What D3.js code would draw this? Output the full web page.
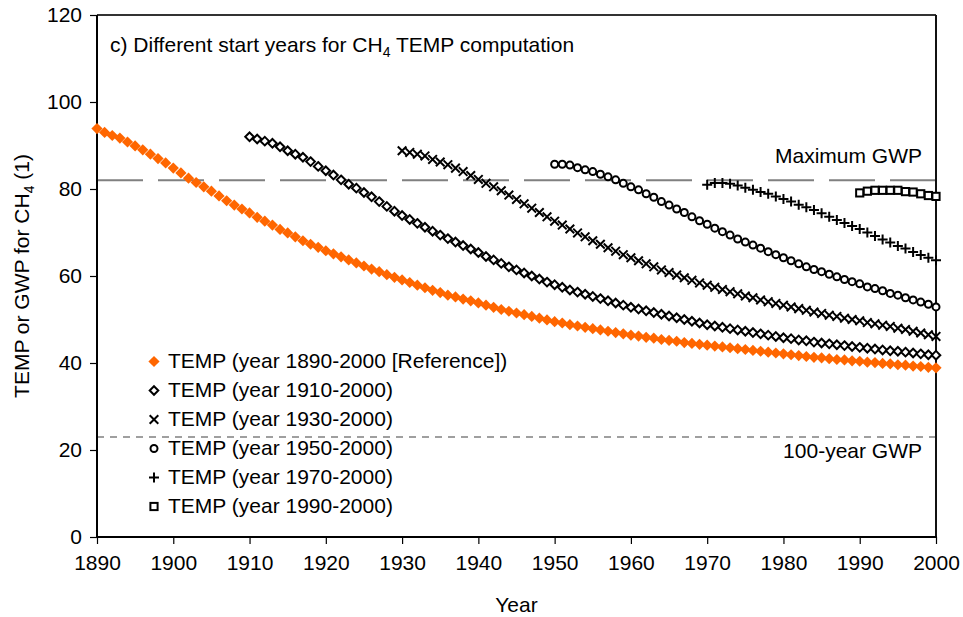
<!DOCTYPE html>
<html>
<head>
<meta charset="utf-8">
<script src="https://cdn.jsdelivr.net/npm/d3@7/dist/d3.min.js"></script>
<style>
  html, body { margin: 0; padding: 0; background: #fff; }
  text { font-family: "Liberation Sans", Arial, sans-serif; fill: #000; }
</style>
</head>
<body>
<svg id="chart" width="963" height="617"></svg>
<script>
// ---------------- data ----------------
const xTicks = [1890, 1900, 1910, 1920, 1930, 1940, 1950, 1960, 1970, 1980, 1990, 2000];
const yTicks = [0, 20, 40, 60, 80, 100, 120];

const startYears = [1890, 1910, 1930, 1950, 1970, 1990];
const legendLabels = [
  "TEMP (year 1890-2000 [Reference])",
  "TEMP (year 1910-2000)",
  "TEMP (year 1930-2000)",
  "TEMP (year 1950-2000)",
  "TEMP (year 1970-2000)",
  "TEMP (year 1990-2000)"
];

const temp1890 = [
  93.9, 93.0, 92.3, 91.7, 90.8, 89.9, 89.0, 88.0, 87.0, 86.0,
  84.8, 83.7, 82.5, 81.5, 80.5, 79.5, 78.4, 77.3, 76.3, 75.4,
  74.5, 73.5, 72.6, 71.7, 70.7, 69.9, 69.0, 68.1, 67.3, 66.6,
  65.8, 65.1, 64.4, 63.7, 63.0, 62.3, 61.6, 61.0, 60.3, 59.7,
  59.1, 58.5, 57.9, 57.3, 56.7, 56.2, 55.6, 55.2, 54.7, 54.3,
  53.8, 53.3, 52.8, 52.3, 51.9, 51.5, 51.1, 50.7, 50.3, 49.9,
  49.5, 49.2, 48.8, 48.5, 48.2, 47.9, 47.6, 47.3, 47.0, 46.7,
  46.4, 46.2, 45.9, 45.7, 45.4, 45.2, 45.0, 44.7, 44.5, 44.3,
  44.1, 43.9, 43.7, 43.5, 43.3, 43.1, 42.9, 42.7, 42.5, 42.3,
  42.1, 41.9, 41.7, 41.5, 41.3, 41.2, 41.0, 40.8, 40.7, 40.5,
  40.4, 40.2, 40.1, 39.9, 39.8, 39.6, 39.5, 39.3, 39.2, 39.0,
  38.9
];
const temp1910 = [
  92.0, 91.5, 91.0, 90.5, 89.7, 88.8, 88.0, 87.3, 86.3, 85.2,
  84.2, 83.2, 82.1, 81.1, 80.2, 79.2, 78.2, 77.1, 76.0, 74.9,
  73.9, 73.0, 72.1, 71.2, 70.3, 69.4, 68.6, 67.8, 67.0, 66.2,
  65.4, 64.5, 63.7, 62.9, 62.1, 61.4, 60.7, 60.0, 59.3, 58.6,
  58.0, 57.4, 56.8, 56.3, 55.8, 55.3, 54.8, 54.3, 53.8, 53.3,
  52.8, 52.4, 52.0, 51.6, 51.2, 50.8, 50.4, 50.0, 49.6, 49.2,
  48.8, 48.5, 48.2, 47.9, 47.6, 47.3, 47.0, 46.7, 46.4, 46.1,
  45.8, 45.6, 45.3, 45.1, 44.8, 44.6, 44.4, 44.2, 44.0, 43.8,
  43.6, 43.4, 43.2, 43.0, 42.8, 42.7, 42.5, 42.3, 42.1, 41.9,
  41.8
];
const temp1930 = [
  88.8, 88.4, 88.0, 87.6, 86.8, 86.2, 85.6, 84.8, 84.0, 83.1,
  82.2, 81.3, 80.5, 79.6, 78.6, 77.6, 76.6, 75.6, 74.6, 73.6,
  72.6, 71.7, 70.8, 69.9, 69.0, 68.1, 67.3, 66.5, 65.7, 64.9,
  64.2, 63.5, 62.8, 62.1, 61.4, 60.8, 60.2, 59.6, 59.0, 58.4,
  57.9, 57.4, 56.9, 56.4, 55.9, 55.4, 55.0, 54.5, 54.1, 53.7,
  53.3, 52.9, 52.5, 52.1, 51.7, 51.4, 51.0, 50.7, 50.3, 50.0,
  49.7, 49.3, 49.0, 48.7, 48.4, 48.0, 47.7, 47.3, 46.9, 46.5,
  46.1
];
const temp1950 = [
  85.7, 85.7, 85.5, 84.9, 84.4, 84.0, 83.4, 82.8, 82.1, 81.3,
  80.5, 79.8, 78.9, 78.1, 77.1, 76.3, 75.4, 74.6, 73.6, 72.7,
  71.9, 71.0, 70.2, 69.4, 68.5, 67.8, 67.1, 66.4, 65.6, 64.9,
  64.2, 63.5, 62.8, 62.1, 61.5, 61.0, 60.4, 59.8, 59.2, 58.7,
  58.2, 57.5, 57.1, 56.6, 56.0, 55.6, 55.0, 54.5, 54.0, 53.5,
  52.9
];
const temp1970 = [
  81.0, 81.4, 81.4, 81.2, 80.8, 80.3, 79.8, 79.3, 78.9, 78.3,
  77.7, 77.1, 76.4, 75.8, 75.2, 74.4, 73.6, 72.9, 72.2, 71.5,
  70.8, 70.0, 69.2, 68.4, 67.7, 66.9, 66.3, 65.5, 64.8, 64.2,
  63.6
];
const temp1990 = [
  79.1, 79.5, 79.7, 79.7, 79.7, 79.7, 79.4, 79.3, 78.9, 78.5,
  78.3
];

const maxGWP = 82.0;
const gwp100 = 23.0;
const refLabels = ["Maximum GWP", "100-year GWP"];

// ---------------- layout ----------------
const W = 963, H = 617;
const L = 97, R = 936, T = 15, B = 537;
const FONT = 21;
const ORANGE = "#FF6600";

const svg = d3.select("#chart");
svg.append("rect").attr("width", W).attr("height", H).attr("fill", "#fff");

const x = d3.scaleLinear().domain([1890, 2000]).range([L, R]);
const y = d3.scaleLinear().domain([0, 120]).range([B, T]);

// reference lines
svg.append("line")
  .attr("x1", x(1890)).attr("x2", x(2000))
  .attr("y1", y(maxGWP)).attr("y2", y(maxGWP))
  .attr("stroke", "#808080").attr("stroke-width", 2)
  .attr("stroke-dasharray", "46,15");
svg.append("line")
  .attr("x1", x(1890)).attr("x2", x(2000))
  .attr("y1", y(gwp100)).attr("y2", y(gwp100))
  .attr("stroke", "#808080").attr("stroke-width", 1.5)
  .attr("stroke-dasharray", "7,6");

svg.append("text").attr("x", R - 14).attr("y", y(maxGWP) - 17)
  .attr("text-anchor", "end").attr("font-size", FONT).attr("fill", "#000")
  .text(refLabels[0]);
svg.append("text").attr("x", R - 14).attr("y", y(gwp100) + 21)
  .attr("text-anchor", "end").attr("font-size", FONT)
  .text(refLabels[1]);

// axes
const gx = svg.append("g").attr("transform", `translate(0,${B})`)
  .call(d3.axisBottom(x).tickValues(xTicks).tickFormat(d3.format("d"))
    .tickSize(7).tickSizeOuter(0).tickPadding(11));
const gy = svg.append("g").attr("transform", `translate(${L},0)`)
  .call(d3.axisLeft(y).tickValues(yTicks).tickSize(7).tickSizeOuter(0).tickPadding(8));
[gx, gy].forEach(g => {
  g.select(".domain").remove();
  g.selectAll(".tick line").attr("stroke", "#000").attr("stroke-width", 1.2);
  g.selectAll(".tick text").attr("font-size", FONT)
    .attr("font-family", '"Liberation Sans", Arial, sans-serif').attr("fill", "#000");
});

// frame
svg.append("line").attr("x1", L).attr("x2", R).attr("y1", T).attr("y2", T)
  .attr("stroke", "#333").attr("stroke-width", 2);
svg.append("line").attr("x1", R).attr("x2", R).attr("y1", T).attr("y2", B)
  .attr("stroke", "#111").attr("stroke-width", 2);
svg.append("line").attr("x1", L).attr("x2", L).attr("y1", T).attr("y2", B + 1)
  .attr("stroke", "#000").attr("stroke-width", 2);
svg.append("line").attr("x1", L).attr("x2", R + 1).attr("y1", B).attr("y2", B)
  .attr("stroke", "#000").attr("stroke-width", 2);

// markers
function drawMarker(g, type) {
  const sw = 2;
  if (type === 0) {
    g.append("path").attr("d", "M0,-5.6L5.6,0L0,5.6L-5.6,0Z").attr("fill", ORANGE);
  } else if (type === 1) {
    g.append("path").attr("d", "M0,-4.3L4.3,0L0,4.3L-4.3,0Z")
      .attr("fill", "#fff").attr("stroke", "#000").attr("stroke-width", sw);
  } else if (type === 2) {
    g.append("path").attr("d", "M-4.3,-4.3L4.3,4.3M-4.3,4.3L4.3,-4.3")
      .attr("fill", "none").attr("stroke", "#000").attr("stroke-width", sw);
  } else if (type === 3) {
    g.append("circle").attr("r", 3.5)
      .attr("fill", "#fff").attr("stroke", "#000").attr("stroke-width", sw);
  } else if (type === 4) {
    g.append("path").attr("d", "M-5,0L5,0M0,-5L0,5")
      .attr("fill", "none").attr("stroke", "#000").attr("stroke-width", sw);
  } else {
    g.append("rect").attr("x", -3.6).attr("y", -3.6).attr("width", 7.2).attr("height", 7.2)
      .attr("fill", "#fff").attr("stroke", "#000").attr("stroke-width", sw);
  }
}

const seriesValues = [temp1890, temp1910, temp1930, temp1950, temp1970, temp1990];
seriesValues.forEach((vals, si) => {
  const pts = vals.map((v, i) => ({ year: startYears[si] + i, value: v }));
  const gs = svg.append("g");
  gs.selectAll("g").data(pts).join("g")
    .attr("transform", d => `translate(${x(d.year)},${y(d.value)})`)
    .each(function () { drawMarker(d3.select(this), si); });
});

// legend
const legendY0 = 360.5, legendStep = 29;
legendLabels.forEach((lab, i) => {
  const gy0 = legendY0 + i * legendStep;
  const g = svg.append("g").attr("transform", `translate(154,${gy0 + 1})`);
  drawMarker(g, i);
  svg.append("text").attr("x", 168).attr("y", gy0).attr("dy", "0.357em")
    .attr("font-size", FONT).text(lab);
});

// title with subscript
const title = svg.append("text").attr("x", 110).attr("y", 52).attr("font-size", FONT);
title.append("tspan").text("c) Different start years for CH");
title.append("tspan").attr("font-size", 14).attr("dy", 5).text("4");
title.append("tspan").attr("dy", -5).text(" TEMP computation");

// axis titles
svg.append("text").attr("x", (L + R) / 2).attr("y", 612)
  .attr("text-anchor", "middle").attr("font-size", FONT).text("Year");

const yt = svg.append("text")
  .attr("transform", `translate(29,${(T + B) / 2}) rotate(-90)`)
  .attr("text-anchor", "middle").attr("font-size", FONT);
yt.append("tspan").text("TEMP or GWP for CH");
yt.append("tspan").attr("font-size", 14).attr("dy", 5).text("4");
yt.append("tspan").attr("dy", -5).text(" (1)");
</script>
</body>
</html>
